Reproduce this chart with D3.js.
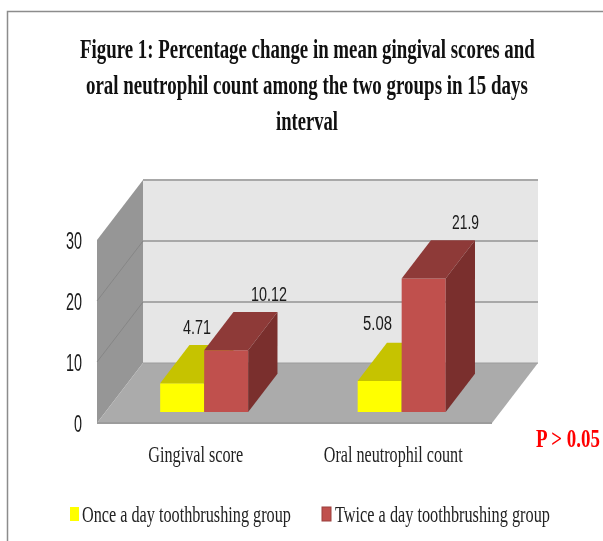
<!DOCTYPE html>
<html>
<head>
<meta charset="utf-8">
<script src="https://d3js.org/d3.v7.min.js"></script>
<style>
  html, body { margin: 0; padding: 0; background: #fff; }
  svg { display: block; filter: blur(0.45px); }
</style>
</head>
<body>
<script>
const categories = ["Gingival score", "Oral neutrophil count"];
const groups = ["Once a day toothbrushing group", "Twice a day toothbrushing group"];
const onceADay = [4.71, 5.08];
const twiceADay = [10.12, 21.9];
const yTicks = [0, 10, 20, 30];
const titleLines = [
  "Figure 1: Percentage change in mean gingival scores and",
  "oral neutrophil count among the two groups in 15 days",
  "interval"
];

const width = 603, height = 541;
const left = 97, right = 492, floorY = 423;
const depthX = 46, depthY = 60;   // how far the back wall is pushed from the front edge
const barW = 44;
const zFront = 0.183, zBack = 0.82;

const colors = {
  wall: "#e6e6e6", side: "#969696", floor: "#ababab", grid: "#a8a8a8", sideGrid: "#868686",
  once: { front: "#ffff00", top: "#c6c300", side: "#a8a600" },
  twice: { front: "#c0504d", top: "#8e3a38", side: "#7a2f2d" }
};

const svg = d3.select("body").append("svg")
  .attr("width", width)
  .attr("height", height);

const xBand = d3.scaleBand().domain(categories).range([left, right]);
const y = d3.scaleLinear().domain([0, 30]).range([0, 183]);
const line = d3.line();

// x at the front plane, value, depth 0..1 -> screen
function project(px, v, z) {
  return [px + z * depthX, floorY - y(v) - z * depthY];
}
function poly(pts, fill) {
  return svg.append("path").attr("d", line(pts) + "Z").attr("fill", fill);
}

// the source picture is squeezed sideways, so text is tall and narrow:
// draw at full size then scale x so it spans the measured width
function fitText(txt, xLeft, base, w, o) {
  const t = svg.append("text")
    .attr("font-family", o.family)
    .attr("font-size", o.size)
    .attr("font-weight", o.weight || "normal")
    .attr("fill", o.fill || "#222")
    .text(txt);
  const natural = t.node().getComputedTextLength();
  t.attr("transform", `translate(${xLeft},${base}) scale(${w / natural},1)`);
  return t;
}

// outer frame
svg.append("path")
  .attr("d", "M7.5,541V11.5H603")
  .attr("fill", "none")
  .attr("stroke", "#8c8c8c")
  .attr("stroke-width", 1.5);

// title
const titleLeft = [80, 86, 276], titleLen = [455, 442, 62];
titleLines.forEach((d, i) => {
  fitText(d, titleLeft[i], 58 + i * 36, titleLen[i],
    { family: "Liberation Serif", weight: "bold", size: 27, fill: "#111" });
});

// walls and floor
poly([project(left, 0, 1), project(right, 0, 1), project(right, 30, 1), project(left, 30, 1)], colors.wall);
poly([project(left, 0, 0), project(left, 0, 1), project(left, 30, 1), project(left, 30, 0)], colors.side);
poly([project(left, 0, 0), project(right, 0, 0), project(right, 0, 1), project(left, 0, 1)], colors.floor);

// gridlines, back wall + side wall
svg.selectAll(".grid").data(yTicks.slice(1)).join("path")
  .attr("class", "grid")
  .attr("d", d => line([project(right, d, 1), project(left, d, 1)]))
  .attr("fill", "none")
  .attr("stroke", colors.grid)
  .attr("stroke-width", 2);
svg.selectAll(".side-grid").data(yTicks.slice(1, 3)).join("path")
  .attr("class", "side-grid")
  .attr("d", d => line([project(left, d, 1), project(left, d, 0)]))
  .attr("fill", "none")
  .attr("stroke", colors.sideGrid)
  .attr("stroke-width", 1);

svg.append("path")
  .attr("d", line([project(left, 0, 1), project(right, 0, 1)]))
  .attr("stroke", "#9c9c9c").attr("stroke-width", 1);
svg.append("path")
  .attr("d", line([project(left, 0, 0), project(right, 0, 0)]))
  .attr("stroke", "#9c9c9c").attr("stroke-width", 2);

// bars, yellow first so the red ones sit over them
function drawBar(cat, v, side, c) {
  const x0 = xBand(cat) + xBand.bandwidth() / 2 + (side === 0 ? -barW : 0);
  const x1 = x0 + barW;
  poly([project(x0, 0, zFront), project(x1, 0, zFront), project(x1, v, zFront), project(x0, v, zFront)], c.front);
  poly([project(x0, v, zFront), project(x1, v, zFront), project(x1, v, zBack), project(x0, v, zBack)], c.top);
  poly([project(x1, 0, zFront), project(x1, 0, zBack), project(x1, v, zBack), project(x1, v, zFront)], c.side);
}
categories.forEach((cat, i) => drawBar(cat, onceADay[i], 0, colors.once));
categories.forEach((cat, i) => drawBar(cat, twiceADay[i], 1, colors.twice));

// value labels: hand placed in the original, so left edge and baseline per label
const sans = { family: "Liberation Sans", size: 21, fill: "#1a1a1a" };
const onceLabelX = [183, 363], onceLabelY = [334, 330], onceLabelW = [28, 29];
const twiceLabelX = [251, 452], twiceLabelY = [301, 229], twiceLabelW = [36, 27];
categories.forEach((cat, i) => {
  fitText(onceADay[i], onceLabelX[i], onceLabelY[i], onceLabelW[i], sans);
  fitText(twiceADay[i], twiceLabelX[i], twiceLabelY[i], twiceLabelW[i], sans);
});

// y axis labels, right aligned
yTicks.forEach(t => {
  const w = t === 0 ? 8 : 16;
  fitText(t, 82 - w, floorY - y(t) + 9, w, { family: "Liberation Sans", size: 23, fill: "#1a1a1a" });
});

// category labels
const catLen = [95, 139];
categories.forEach((d, i) => {
  const cx = xBand(d) + xBand.bandwidth() / 2;
  fitText(d, cx - catLen[i] / 2, 462, catLen[i], { family: "Liberation Serif", size: 23 });
});

// p value note
fitText("P > 0.05", 536, 447, 64,
  { family: "Liberation Serif", weight: "bold", size: 26, fill: "#ff0000" });

// legend
const legendBox = [70, 322], legendText = [82, 335], legendLen = [209, 215];
const legendFill = [colors.once.front, colors.twice.front];
groups.forEach((g, i) => {
  svg.append("rect")
    .attr("x", legendBox[i]).attr("y", 507)
    .attr("width", 9).attr("height", 14)
    .attr("fill", legendFill[i])
    .attr("stroke", i ? "#9a3f3c" : "none");
  fitText(g, legendText[i], 522, legendLen[i], { family: "Liberation Serif", size: 24 });
});
</script>
</body>
</html>
